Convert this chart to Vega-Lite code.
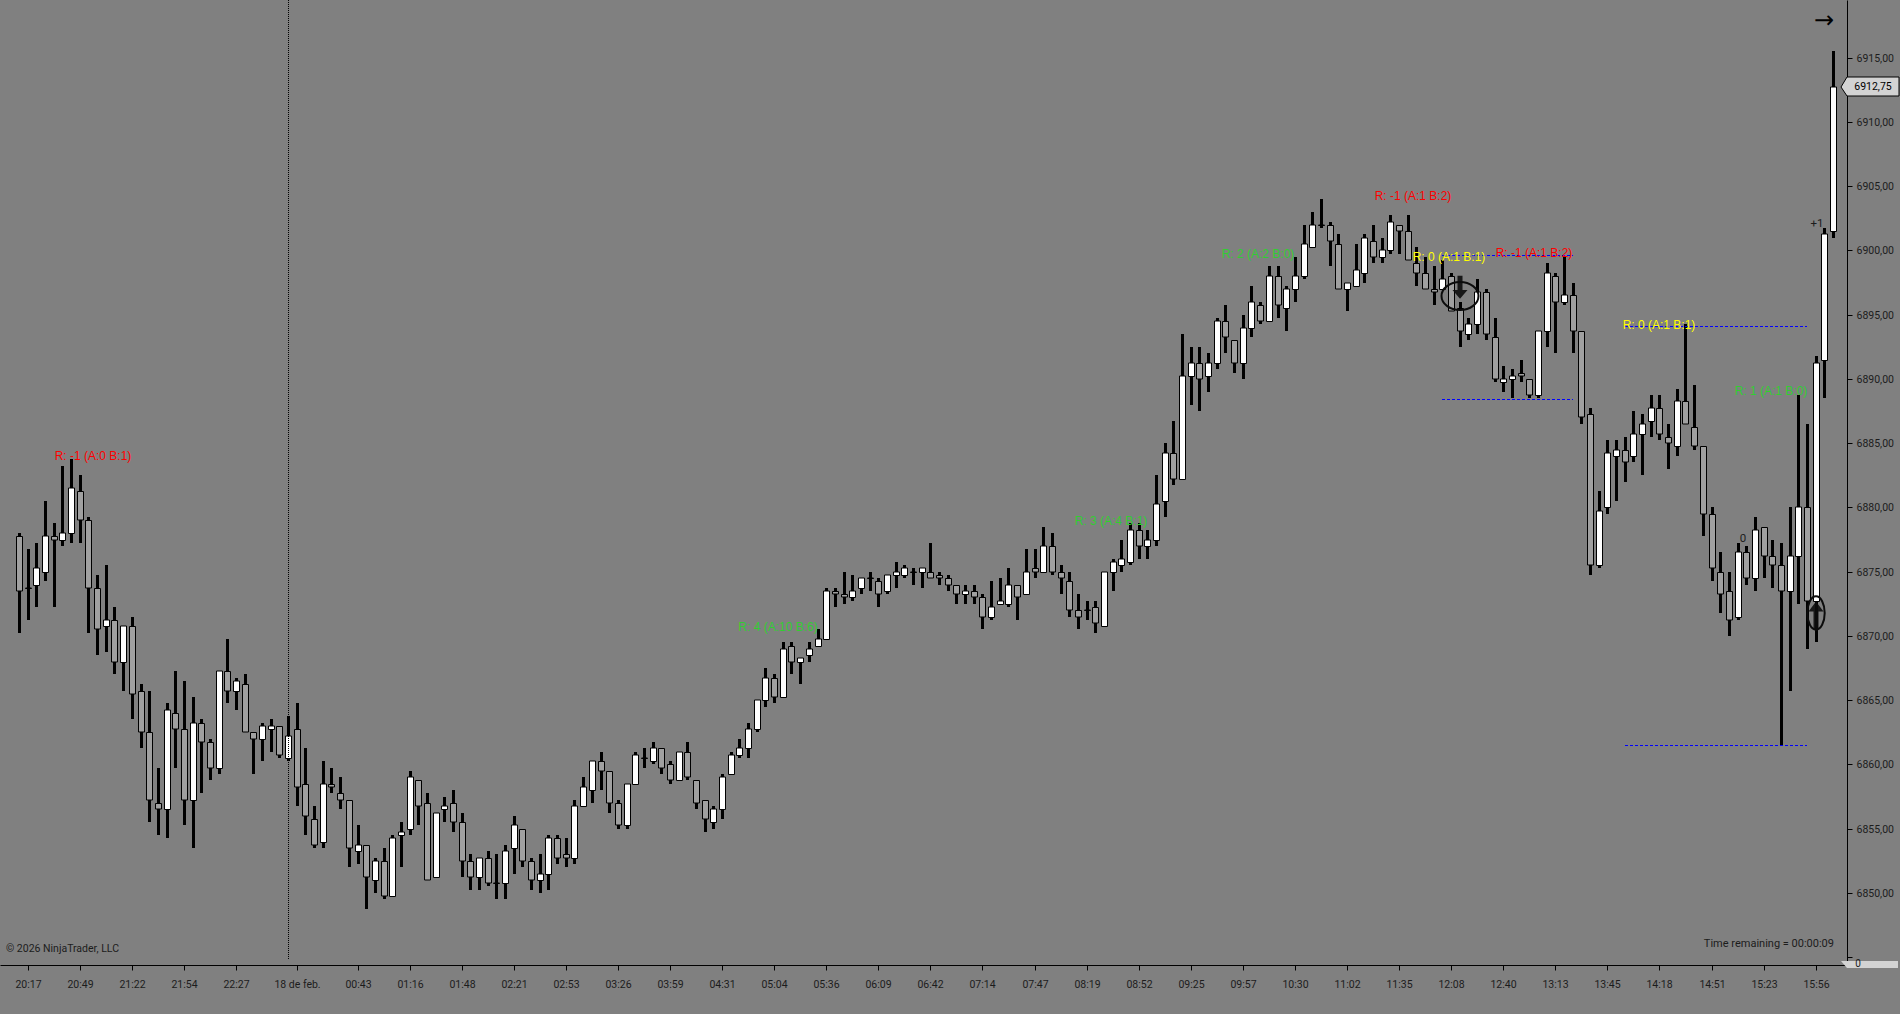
{"$schema":"https://vega.github.io/schema/vega-lite/v6.json","width":1847,"height":965,"autosize":{"type":"none"},"padding":{"left":0,"top":0,"right":53,"bottom":49},"background":"#808080","config":{"view":{"stroke":null},"text":{"font":"Liberation Sans"}},"data":{"values":[
{"t":0,"o":6877.75,"h":6878,"l":6870.25,"c":6873.5},
{"t":1,"o":6873.75,"h":6876.75,"l":6871.25,"c":6873.75},
{"t":2,"o":6874,"h":6877.25,"l":6872.25,"c":6875.25},
{"t":3,"o":6875,"h":6880.5,"l":6874.25,"c":6877.75},
{"t":4,"o":6877.75,"h":6878.75,"l":6872.25,"c":6877.5},
{"t":5,"o":6877.5,"h":6883.25,"l":6877,"c":6878},
{"t":6,"o":6878,"h":6883.75,"l":6877.25,"c":6881.5},
{"t":7,"o":6881.25,"h":6882.5,"l":6877.25,"c":6879},
{"t":8,"o":6879,"h":6879.25,"l":6870.25,"c":6873.75},
{"t":9,"o":6873.75,"h":6874.75,"l":6868.5,"c":6870.5},
{"t":10,"o":6870.75,"h":6875.5,"l":6868.75,"c":6871.25},
{"t":11,"o":6871.25,"h":6872.25,"l":6867,"c":6868},
{"t":12,"o":6868,"h":6870.75,"l":6865.75,"c":6870.75},
{"t":13,"o":6870.75,"h":6871.5,"l":6863.5,"c":6865.5},
{"t":14,"o":6865.75,"h":6866.25,"l":6861.25,"c":6862.5},
{"t":15,"o":6862.5,"h":6865.75,"l":6855.5,"c":6857.25},
{"t":16,"o":6857,"h":6859.75,"l":6854.5,"c":6856.5},
{"t":17,"o":6856.5,"h":6864.75,"l":6854.25,"c":6864.25},
{"t":18,"o":6864,"h":6867.25,"l":6859.75,"c":6862.75},
{"t":19,"o":6862.75,"h":6866.5,"l":6855.25,"c":6857.25},
{"t":20,"o":6857.25,"h":6865.25,"l":6853.5,"c":6863.25},
{"t":21,"o":6863.25,"h":6863.5,"l":6857.75,"c":6861.75},
{"t":22,"o":6861.75,"h":6862,"l":6858.75,"c":6859.75},
{"t":23,"o":6859.75,"h":6867.25,"l":6859.25,"c":6867.25},
{"t":24,"o":6867.25,"h":6869.75,"l":6864.75,"c":6865.75},
{"t":25,"o":6865.75,"h":6866.75,"l":6864.25,"c":6866.5},
{"t":26,"o":6866.25,"h":6867,"l":6862.5,"c":6862.5},
{"t":27,"o":6862.5,"h":6862.5,"l":6859.25,"c":6862},
{"t":28,"o":6862,"h":6863.25,"l":6860.25,"c":6863},
{"t":29,"o":6862.75,"h":6863.5,"l":6861,"c":6863},
{"t":30,"o":6863,"h":6863,"l":6860.5,"c":6860.75},
{"t":31,"o":6860.5,"h":6863.75,"l":6860.25,"c":6862.25},
{"t":32,"o":6862.75,"h":6864.75,"l":6856.75,"c":6858.25},
{"t":33,"o":6858.5,"h":6861.25,"l":6854.5,"c":6856},
{"t":34,"o":6855.75,"h":6856.75,"l":6853.5,"c":6853.75},
{"t":35,"o":6854,"h":6860.25,"l":6853.5,"c":6858.5},
{"t":36,"o":6858.5,"h":6859.75,"l":6857.75,"c":6858.25},
{"t":37,"o":6857.75,"h":6859,"l":6856.5,"c":6857.25},
{"t":38,"o":6857.25,"h":6857.25,"l":6852,"c":6853.5},
{"t":39,"o":6853.25,"h":6855.25,"l":6852.25,"c":6853.75},
{"t":40,"o":6853.75,"h":6853.75,"l":6848.75,"c":6851.25},
{"t":41,"o":6851,"h":6852.75,"l":6850,"c":6852.5},
{"t":42,"o":6852.5,"h":6853.5,"l":6849.5,"c":6849.75},
{"t":43,"o":6849.75,"h":6854.5,"l":6849.75,"c":6854.25},
{"t":44,"o":6854.5,"h":6855.5,"l":6852,"c":6854.75},
{"t":45,"o":6855,"h":6859.5,"l":6854.5,"c":6859},
{"t":46,"o":6858.75,"h":6858.75,"l":6855.25,"c":6856.75},
{"t":47,"o":6857,"h":6857.75,"l":6851,"c":6851},
{"t":48,"o":6851.25,"h":6856.25,"l":6851.25,"c":6856.25},
{"t":49,"o":6856.5,"h":6857.5,"l":6855.5,"c":6856.75},
{"t":50,"o":6857,"h":6858,"l":6854.75,"c":6855.5},
{"t":51,"o":6855.5,"h":6856.25,"l":6851.25,"c":6852.5},
{"t":52,"o":6852.5,"h":6853,"l":6850.25,"c":6851.25},
{"t":53,"o":6851.25,"h":6852.75,"l":6850.25,"c":6852.75},
{"t":54,"o":6852.75,"h":6853.25,"l":6850.5,"c":6850.75},
{"t":55,"o":6850.75,"h":6853,"l":6849.5,"c":6850.75},
{"t":56,"o":6850.75,"h":6853.75,"l":6849.5,"c":6853.25},
{"t":57,"o":6853.5,"h":6856,"l":6851.5,"c":6855.25},
{"t":58,"o":6855,"h":6855,"l":6852,"c":6852.5},
{"t":59,"o":6852.5,"h":6852.75,"l":6850.25,"c":6851},
{"t":60,"o":6851,"h":6853,"l":6850,"c":6851.5},
{"t":61,"o":6851.5,"h":6854.5,"l":6850.25,"c":6854.25},
{"t":62,"o":6854.25,"h":6854.5,"l":6852.25,"c":6852.75},
{"t":63,"o":6853,"h":6854.25,"l":6852,"c":6852.75},
{"t":64,"o":6852.75,"h":6857.25,"l":6852.25,"c":6856.75},
{"t":65,"o":6856.75,"h":6859,"l":6856.75,"c":6858.25},
{"t":66,"o":6858,"h":6860.25,"l":6857,"c":6860.25},
{"t":67,"o":6860.25,"h":6861,"l":6858,"c":6859.5},
{"t":68,"o":6859.5,"h":6859.5,"l":6856.25,"c":6857},
{"t":69,"o":6857,"h":6857.25,"l":6855,"c":6855.25},
{"t":70,"o":6855.25,"h":6858.5,"l":6855,"c":6858.5},
{"t":71,"o":6858.5,"h":6861,"l":6858.5,"c":6860.75},
{"t":72,"o":6860.5,"h":6861.25,"l":6859.75,"c":6860.5},
{"t":73,"o":6860.25,"h":6861.75,"l":6860,"c":6861.25},
{"t":74,"o":6861.25,"h":6861.25,"l":6859.25,"c":6859.75},
{"t":75,"o":6860,"h":6860.25,"l":6858.5,"c":6858.75},
{"t":76,"o":6858.75,"h":6861,"l":6858.75,"c":6861},
{"t":77,"o":6861,"h":6861.75,"l":6858.75,"c":6859},
{"t":78,"o":6858.75,"h":6858.75,"l":6856.5,"c":6857},
{"t":79,"o":6857.25,"h":6857.25,"l":6854.75,"c":6855.75},
{"t":80,"o":6855.5,"h":6856.75,"l":6855,"c":6856.5},
{"t":81,"o":6856.5,"h":6859.25,"l":6855.75,"c":6859},
{"t":82,"o":6859.25,"h":6861,"l":6859.25,"c":6860.75},
{"t":83,"o":6860.75,"h":6862,"l":6860.5,"c":6861.25},
{"t":84,"o":6861.25,"h":6863.25,"l":6860.5,"c":6862.75},
{"t":85,"o":6862.75,"h":6865,"l":6862.5,"c":6865},
{"t":86,"o":6865,"h":6867.5,"l":6864.5,"c":6866.75},
{"t":87,"o":6866.75,"h":6867,"l":6864.75,"c":6865.25},
{"t":88,"o":6865.25,"h":6869.5,"l":6865.25,"c":6869},
{"t":89,"o":6869.25,"h":6869.5,"l":6867,"c":6868},
{"t":90,"o":6868,"h":6868.25,"l":6866.25,"c":6868.25},
{"t":91,"o":6868.5,"h":6869.5,"l":6868,"c":6869},
{"t":92,"o":6869.25,"h":6870.5,"l":6869.25,"c":6869.75},
{"t":93,"o":6869.75,"h":6873.75,"l":6869.75,"c":6873.5},
{"t":94,"o":6873.5,"h":6873.75,"l":6872.25,"c":6873.25},
{"t":95,"o":6873.25,"h":6875,"l":6872.5,"c":6873},
{"t":96,"o":6873,"h":6874.75,"l":6872.75,"c":6873.5},
{"t":97,"o":6873.75,"h":6874.5,"l":6873.25,"c":6874.5},
{"t":98,"o":6874.5,"h":6875,"l":6873.5,"c":6874.5},
{"t":99,"o":6874.25,"h":6874.5,"l":6872.25,"c":6873.25},
{"t":100,"o":6873.5,"h":6874.75,"l":6873.25,"c":6874.75},
{"t":101,"o":6874.75,"h":6875.75,"l":6873.75,"c":6875},
{"t":102,"o":6874.75,"h":6875.5,"l":6874.5,"c":6875.25},
{"t":103,"o":6875,"h":6875.25,"l":6874,"c":6875},
{"t":104,"o":6875,"h":6875.25,"l":6873.75,"c":6875.25},
{"t":105,"o":6875,"h":6877.25,"l":6874.5,"c":6874.5},
{"t":106,"o":6874.75,"h":6875,"l":6874,"c":6874.5},
{"t":107,"o":6874.5,"h":6874.75,"l":6873.5,"c":6874},
{"t":108,"o":6874,"h":6874,"l":6872.5,"c":6873.25},
{"t":109,"o":6873.25,"h":6874,"l":6872.5,"c":6873.5},
{"t":110,"o":6873.5,"h":6874,"l":6872.5,"c":6873},
{"t":111,"o":6873,"h":6873.25,"l":6870.5,"c":6871.5},
{"t":112,"o":6871.5,"h":6874.25,"l":6871.25,"c":6872.25},
{"t":113,"o":6872.5,"h":6874.5,"l":6872.5,"c":6872.75},
{"t":114,"o":6872.5,"h":6875.25,"l":6872.25,"c":6874},
{"t":115,"o":6874,"h":6874,"l":6871.25,"c":6873},
{"t":116,"o":6873.25,"h":6876.75,"l":6873.25,"c":6875},
{"t":117,"o":6875.25,"h":6876.75,"l":6874.5,"c":6875},
{"t":118,"o":6875,"h":6878.5,"l":6875,"c":6877},
{"t":119,"o":6877,"h":6878,"l":6874.75,"c":6875},
{"t":120,"o":6875,"h":6875.5,"l":6873.25,"c":6874.5},
{"t":121,"o":6874.25,"h":6875,"l":6871.5,"c":6872},
{"t":122,"o":6872,"h":6873.25,"l":6870.5,"c":6871.5},
{"t":123,"o":6872,"h":6872.75,"l":6871.25,"c":6872},
{"t":124,"o":6872.25,"h":6872.75,"l":6870.25,"c":6871},
{"t":125,"o":6870.75,"h":6875,"l":6870.75,"c":6875},
{"t":126,"o":6875,"h":6876,"l":6873.5,"c":6875.75},
{"t":127,"o":6875.5,"h":6877.5,"l":6875,"c":6876},
{"t":128,"o":6875.75,"h":6878.75,"l":6875.5,"c":6878.25},
{"t":129,"o":6878.25,"h":6878.75,"l":6876,"c":6877},
{"t":130,"o":6877,"h":6878.25,"l":6876,"c":6877.5},
{"t":131,"o":6877.5,"h":6882.5,"l":6877,"c":6880.25},
{"t":132,"o":6880.5,"h":6885,"l":6879.25,"c":6884.25},
{"t":133,"o":6884.25,"h":6886.75,"l":6881.75,"c":6882.25},
{"t":134,"o":6882.25,"h":6893.5,"l":6882.25,"c":6890.25},
{"t":135,"o":6890.25,"h":6892.5,"l":6888,"c":6891.25},
{"t":136,"o":6891.25,"h":6892.5,"l":6887.5,"c":6890},
{"t":137,"o":6890.25,"h":6892,"l":6889,"c":6891.25},
{"t":138,"o":6891.25,"h":6894.75,"l":6890.75,"c":6894.5},
{"t":139,"o":6894.5,"h":6895.75,"l":6892,"c":6893.25},
{"t":140,"o":6893,"h":6893,"l":6890.5,"c":6891.25},
{"t":141,"o":6891.25,"h":6895,"l":6890,"c":6894},
{"t":142,"o":6894,"h":6897.25,"l":6893.25,"c":6896},
{"t":143,"o":6895.75,"h":6896,"l":6894.25,"c":6894.5},
{"t":144,"o":6894.5,"h":6898.75,"l":6894.5,"c":6898},
{"t":145,"o":6898,"h":6898.75,"l":6894.75,"c":6895.75},
{"t":146,"o":6895.5,"h":6897.25,"l":6893.75,"c":6897},
{"t":147,"o":6897,"h":6899.5,"l":6896,"c":6898},
{"t":148,"o":6898,"h":6902,"l":6897.75,"c":6900.5},
{"t":149,"o":6900.25,"h":6903,"l":6900.25,"c":6902},
{"t":150,"o":6902,"h":6904,"l":6901.75,"c":6902},
{"t":151,"o":6902,"h":6902.25,"l":6898.75,"c":6900.75},
{"t":152,"o":6900.5,"h":6901.25,"l":6897,"c":6897},
{"t":153,"o":6897,"h":6897.5,"l":6895.25,"c":6897.5},
{"t":154,"o":6897.25,"h":6900.5,"l":6897.25,"c":6898.5},
{"t":155,"o":6898.25,"h":6901.25,"l":6897.5,"c":6901},
{"t":156,"o":6900.75,"h":6902,"l":6899,"c":6899.5},
{"t":157,"o":6899.5,"h":6901,"l":6899,"c":6900},
{"t":158,"o":6900,"h":6902.75,"l":6899.75,"c":6902.25},
{"t":159,"o":6902,"h":6902,"l":6899.75,"c":6901.5},
{"t":160,"o":6901.5,"h":6902.75,"l":6899.25,"c":6899.25},
{"t":161,"o":6899,"h":6900.25,"l":6897.25,"c":6898.25},
{"t":162,"o":6898.25,"h":6899.5,"l":6897,"c":6897},
{"t":163,"o":6897,"h":6898.75,"l":6895.75,"c":6896.75},
{"t":164,"o":6897,"h":6899.25,"l":6897,"c":6897.75},
{"t":165,"o":6898,"h":6898.25,"l":6895.25,"c":6895.25},
{"t":166,"o":6895.5,"h":6896,"l":6892.5,"c":6893.75},
{"t":167,"o":6893.5,"h":6894.75,"l":6893,"c":6894.25},
{"t":168,"o":6894.25,"h":6897.75,"l":6893.5,"c":6896.75},
{"t":169,"o":6896.75,"h":6897,"l":6893,"c":6893.5},
{"t":170,"o":6893.25,"h":6894.75,"l":6889.75,"c":6890},
{"t":171,"o":6889.75,"h":6891,"l":6889,"c":6890},
{"t":172,"o":6890,"h":6890.75,"l":6888.5,"c":6890.25},
{"t":173,"o":6890.5,"h":6891.5,"l":6889.75,"c":6890.25},
{"t":174,"o":6890,"h":6890,"l":6888.5,"c":6888.75},
{"t":175,"o":6888.75,"h":6893.75,"l":6888.5,"c":6893.75},
{"t":176,"o":6893.75,"h":6899,"l":6892.5,"c":6898.25},
{"t":177,"o":6898,"h":6898.25,"l":6892,"c":6896},
{"t":178,"o":6896,"h":6899.5,"l":6895.75,"c":6896.5},
{"t":179,"o":6896.5,"h":6897.5,"l":6892,"c":6893.75},
{"t":180,"o":6893.75,"h":6893.75,"l":6886.5,"c":6887},
{"t":181,"o":6887.25,"h":6887.75,"l":6874.75,"c":6875.5},
{"t":182,"o":6875.5,"h":6881.25,"l":6875.25,"c":6879.75},
{"t":183,"o":6880,"h":6885.25,"l":6879.5,"c":6884.25},
{"t":184,"o":6884,"h":6885.25,"l":6880.5,"c":6884.5},
{"t":185,"o":6884.5,"h":6885.5,"l":6882,"c":6883.5},
{"t":186,"o":6884,"h":6887.5,"l":6883.5,"c":6885.75},
{"t":187,"o":6885.75,"h":6887.25,"l":6882.5,"c":6886.5},
{"t":188,"o":6886.75,"h":6888.75,"l":6885.5,"c":6887.75},
{"t":189,"o":6887.75,"h":6888.75,"l":6885.25,"c":6885.75},
{"t":190,"o":6885.5,"h":6886.5,"l":6883,"c":6885},
{"t":191,"o":6884.75,"h":6889.25,"l":6884,"c":6888.25},
{"t":192,"o":6888.25,"h":6894.25,"l":6886.5,"c":6886.5},
{"t":193,"o":6886.25,"h":6889.5,"l":6884.5,"c":6884.75},
{"t":194,"o":6884.75,"h":6884.75,"l":6877.75,"c":6879.5},
{"t":195,"o":6879.5,"h":6880,"l":6874.25,"c":6875.25},
{"t":196,"o":6875,"h":6876.5,"l":6871.75,"c":6873.25},
{"t":197,"o":6873.5,"h":6875,"l":6870,"c":6871.25},
{"t":198,"o":6871.5,"h":6877.25,"l":6871.25,"c":6876.5},
{"t":199,"o":6876.5,"h":6877,"l":6874,"c":6874.5},
{"t":200,"o":6874.5,"h":6879.25,"l":6873.5,"c":6878.25},
{"t":201,"o":6878.5,"h":6878.5,"l":6874.5,"c":6876.25},
{"t":202,"o":6876.25,"h":6877.5,"l":6873.75,"c":6875.5},
{"t":203,"o":6875.5,"h":6877.25,"l":6861.5,"c":6873.5},
{"t":204,"o":6873.5,"h":6880,"l":6865.75,"c":6876.25},
{"t":205,"o":6876.25,"h":6888.75,"l":6872.5,"c":6880},
{"t":206,"o":6880,"h":6886.5,"l":6869,"c":6872.75},
{"t":207,"o":6872.75,"h":6891.75,"l":6869.5,"c":6891.25},
{"t":208,"o":6891.5,"h":6901.75,"l":6888.5,"c":6901.25},
{"t":209,"o":6901.5,"h":6915.5,"l":6901,"c":6912.75}
]},
"layer":[
{"mark":{"type":"rule","color":"#000000","strokeWidth":3,"xOffset":0.5},"encoding":{
"x":{"field":"t","type":"quantitative","scale":{"domain":[-2.189,210.61],"nice":false,"zero":false,"round":true,"padding":0},
"axis":{"title":null,"grid":false,"values":[1,7,13,19,25,32,39,45,51,57,63,69,75,81,87,93,99,105,111,117,123,129,135,141,147,153,159,165,171,177,183,189,195,201,207],"domainColor":"#000000","tickColor":"#000000","tickSize":5,"labelPadding":9,"labelFont":"Roboto","labelFontSize":10.5,"labelColor":"#1c1c1c","labelOverlap":false,"labelFlush":false,"labelBound":false,
"labelExpr":"{'1':'20:17','7':'20:49','13':'21:22','19':'21:54','25':'22:27','32':'18 de feb.','39':'00:43','45':'01:16','51':'01:48','57':'02:21','63':'02:53','69':'03:26','75':'03:59','81':'04:31','87':'05:04','93':'05:36','99':'06:09','105':'06:42','111':'07:14','117':'07:47','123':'08:19','129':'08:52','135':'09:25','141':'09:57','147':'10:30','153':'11:02','159':'11:35','165':'12:08','171':'12:40','177':'13:13','183':'13:45','189':'14:18','195':'14:51','201':'15:23','207':'15:56'}[datum.value]"}},
"y":{"field":"h","type":"quantitative","scale":{"domain":[6844.39,6919.49],"nice":false,"zero":false,"round":true,"padding":0},
"axis":{"title":null,"orient":"right","grid":false,"values":[6845,6850,6855,6860,6865,6870,6875,6880,6885,6890,6895,6900,6905,6910,6915],"domainColor":"#000000","tickColor":"#000000","tickSize":5,"labelPadding":4,"labelFont":"Roboto","labelFontSize":10.5,"labelColor":"#1c1c1c","labelOverlap":false,"labelFlush":false,"labelBound":false,
"labelExpr":"datum.value==6845?'':replace(format(datum.value,'.2f'),'.',',')"}},
"y2":{"field":"l"}}},
{"mark":{"type":"bar","orient":"vertical","width":6,"stroke":"#000000","strokeWidth":1,"xOffset":0.5,"yOffset":0.5},"encoding":{
"x":{"field":"t","type":"quantitative"},
"y":{"field":"o","type":"quantitative"},
"y2":{"field":"c"},
"fill":{"condition":{"test":"datum.c>datum.o","value":"#ffffff"},"value":"#a0a0a0"}}},
{"data":{"values":[{"t":31,"top":6919.49,"bot":6844.78}]},"mark":{"type":"rule","color":"#000000","strokeWidth":1,"strokeDash":[1,1],"xOffset":0.5},"encoding":{"x":{"field":"t","type":"quantitative"},"y":{"field":"top","type":"quantitative"},"y2":{"field":"bot"}}},
{"data":{"values":[{"t":164,"t2":179,"p":6899.63},{"t":164,"t2":179,"p":6888.47},{"t":185,"t2":206,"p":6894.12},{"t":185,"t2":206,"p":6861.5}]},"mark":{"type":"rule","color":"#0000ff","strokeWidth":1,"strokeDash":[3,2],"yOffset":0.5},"encoding":{"x":{"field":"t","type":"quantitative"},"x2":{"field":"t2"},"y":{"field":"p","type":"quantitative"}}},
{"data":{"values":[{"t":166.03,"p":6896.45}]},"mark":{"type":"point","shape":"M-18.5,0A18.5,14,0,1,1,18.5,0A18.5,14,0,1,1,-18.5,0Z","size":4,"filled":false,"stroke":"#0c0c0c","strokeWidth":2,"opacity":1},"encoding":{"x":{"field":"t","type":"quantitative"},"y":{"field":"p","type":"quantitative"}}},
{"data":{"values":[{"t":166.03,"p":6896.45}]},"mark":{"type":"point","shape":"M-2.5,-20.3L2.5,-20.3L2.5,-6L7.5,-6L0,2.8L-7.5,-6L-2.5,-6Z","size":4,"filled":true,"fill":"#0c0c0c","opacity":0.9},"encoding":{"x":{"field":"t","type":"quantitative"},"y":{"field":"p","type":"quantitative"}}},
{"data":{"values":[{"t":207.07,"p":6871.76}]},"mark":{"type":"point","shape":"M-8.7,0A8.7,16.7,0,1,1,8.7,0A8.7,16.7,0,1,1,-8.7,0Z","size":4,"filled":false,"stroke":"#0c0c0c","strokeWidth":2,"opacity":1},"encoding":{"x":{"field":"t","type":"quantitative"},"y":{"field":"p","type":"quantitative"}}},
{"data":{"values":[{"t":207.07,"p":6871.76}]},"mark":{"type":"point","shape":"M0,-11.6L7.5,-1.6L2.5,-1.6L2.5,16.7L-2.5,16.7L-2.5,-1.6L-7.5,-1.6Z","size":4,"filled":true,"fill":"#0c0c0c","opacity":0.9},"encoding":{"x":{"field":"t","type":"quantitative"},"y":{"field":"p","type":"quantitative"}}},
{"data":{"values":[
{"t":8.5,"p":6884.03,"label":"R: -1 (A:0 B:1)","tone":"loss"},
{"t":87.4,"p":6870.73,"label":"R: 4 (A:10 B:6)","tone":"win"},
{"t":125.8,"p":6878.98,"label":"R: 3 (A:4 B:1)","tone":"win"},
{"t":142.7,"p":6899.73,"label":"R: 2 (A:2 B:0)","tone":"win"},
{"t":160.6,"p":6904.26,"label":"R: -1 (A:1 B:2)","tone":"loss"},
{"t":164.7,"p":6899.52,"label":"R: 0 (A:1 B:1)","tone":"flat"},
{"t":174.6,"p":6899.78,"label":"R: -1 (A:1 B:2)","tone":"loss"},
{"t":188.9,"p":6894.23,"label":"R: 0 (A:1 B:1)","tone":"flat"},
{"t":201.8,"p":6889.04,"label":"R: 1 (A:1 B:0)","tone":"win"}
]},"mark":{"type":"text","font":"Liberation Sans","fontSize":12,"align":"center","baseline":"middle"},"encoding":{"x":{"field":"t","type":"quantitative"},"y":{"field":"p","type":"quantitative"},"text":{"field":"label"},"color":{"field":"tone","type":"nominal","legend":null,"scale":{"domain":["loss","win","flat"],"range":["#ff0000","#32cd32","#ffff00"]}}}},
{"data":{"values":[{"t":207.1,"p":6902.06,"label":"+1"},{"t":198.6,"p":6877.53,"label":"0"}]},"mark":{"type":"text","font":"Roboto","fontSize":11.5,"align":"center","baseline":"middle","color":"#1c1c1c"},"encoding":{"x":{"field":"t","type":"quantitative"},"y":{"field":"p","type":"quantitative"},"text":{"field":"label"}}},
{"data":{"values":[{"t":-1.53,"p":6845.61,"label":"© 2026 NinjaTrader, LLC"}]},"mark":{"type":"text","font":"Roboto","fontSize":10.5,"align":"left","baseline":"middle","color":"#1c1c1c"},"encoding":{"x":{"field":"t","type":"quantitative"},"y":{"field":"p","type":"quantitative"},"text":{"field":"label"}}},
{"data":{"values":[{"t":209.1,"p":6846.03,"label":"Time remaining = 00:00:09"}]},"mark":{"type":"text","font":"Roboto","fontSize":11,"align":"right","baseline":"middle","color":"#1c1c1c"},"encoding":{"x":{"field":"t","type":"quantitative"},"y":{"field":"p","type":"quantitative"},"text":{"field":"label"}}},
{"data":{"values":[{"t":208,"p":6917.86,"label":"→"}]},"mark":{"type":"text","font":"DejaVu Sans","fontSize":24,"align":"center","baseline":"middle","color":"#000000"},"encoding":{"x":{"field":"t","type":"quantitative"},"y":{"field":"p","type":"quantitative"},"text":{"field":"label"}}},
{"data":{"values":[{"t":209.92,"hi":6912.75,"lo":6912.75},{"t":210.6,"hi":6913.47,"lo":6912.02},{"t":216.6,"hi":6913.47,"lo":6912.02}]},"mark":{"type":"area","orient":"vertical","fill":"#d3d3d3","stroke":"#000000","strokeWidth":1,"opacity":1},"encoding":{"x":{"field":"t","type":"quantitative"},"y":{"field":"hi","type":"quantitative"},"y2":{"field":"lo"}}},
{"data":{"values":[{"t":213.6,"p":6912.75,"label":"6912,75"}]},"mark":{"type":"text","font":"Roboto","fontSize":10.5,"align":"center","baseline":"middle","color":"#000000"},"encoding":{"x":{"field":"t","type":"quantitative"},"y":{"field":"p","type":"quantitative"},"text":{"field":"label"}}},
{"data":{"values":[{"t":209.92,"hi":6844.72,"lo":6844.72},{"t":210.6,"hi":6844.72,"lo":6844.17},{"t":216.5,"hi":6844.72,"lo":6844.17}]},"mark":{"type":"area","orient":"vertical","fill":"#d3d3d3","opacity":1},"encoding":{"x":{"field":"t","type":"quantitative"},"y":{"field":"hi","type":"quantitative"},"y2":{"field":"lo"}}},
{"data":{"values":[{"t":211.9,"p":6844.5,"label":"0"}]},"mark":{"type":"text","font":"Roboto","fontSize":10,"align":"center","baseline":"middle","color":"#1c1c1c"},"encoding":{"x":{"field":"t","type":"quantitative"},"y":{"field":"p","type":"quantitative"},"text":{"field":"label"}}}
]}
